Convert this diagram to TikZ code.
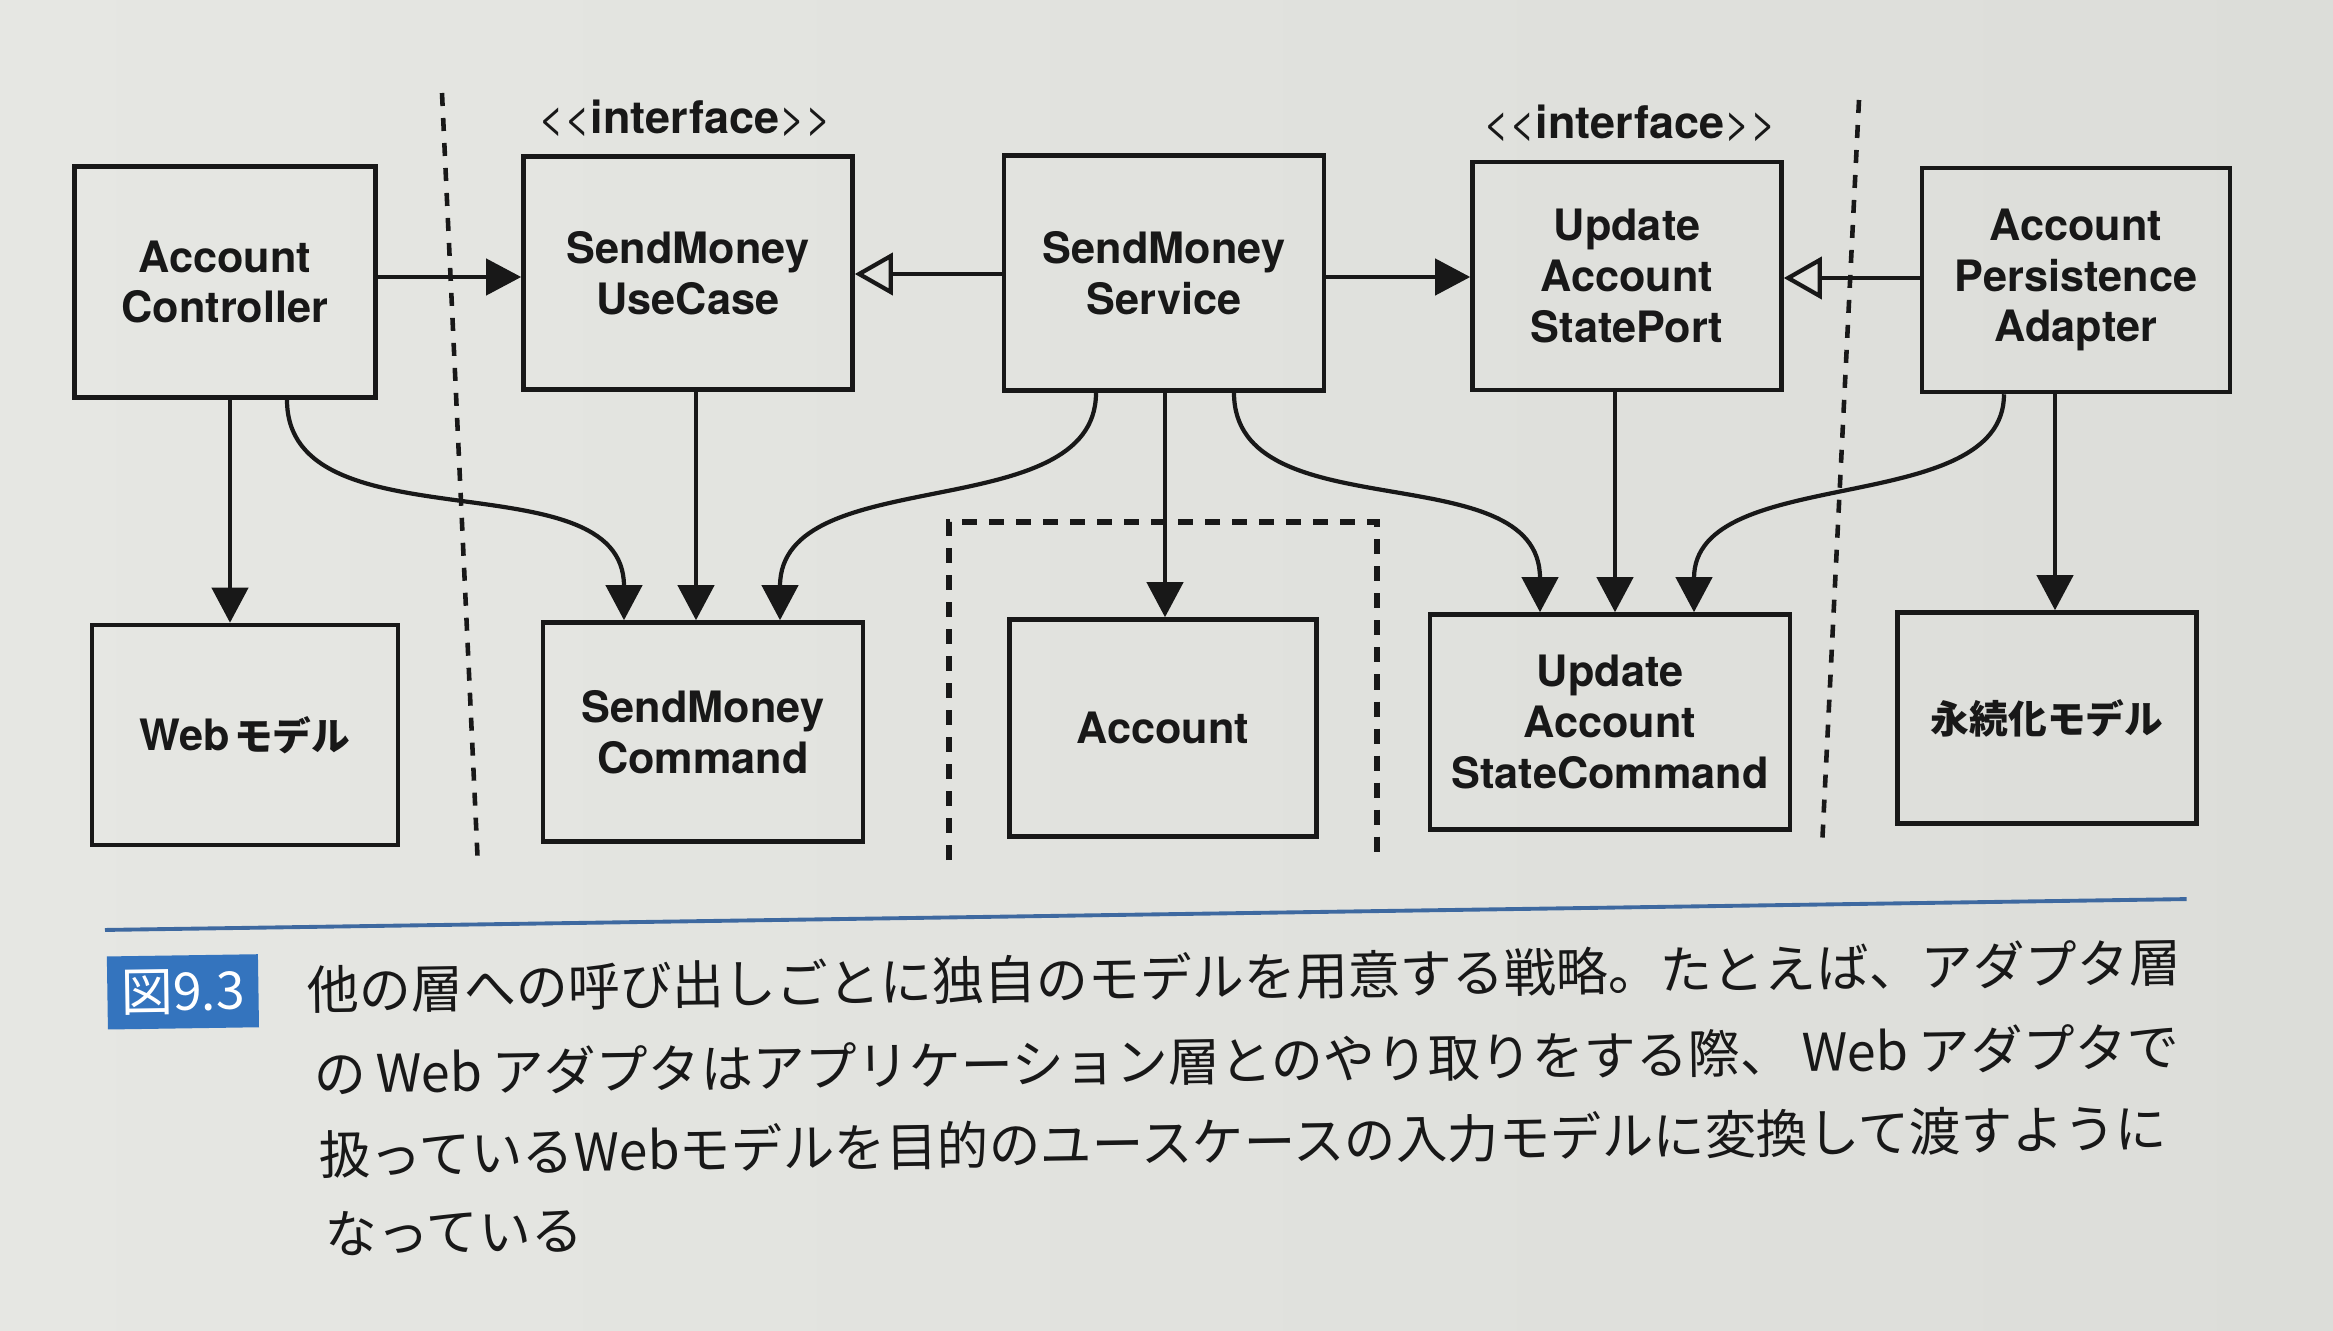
\documentclass[tikz,border=0pt]{standalone}
\usepackage{fontspec}
\setmainfont{TeX Gyre Heros}
\newfontfamily\jpfont{Noto Sans CJK JP}
\usetikzlibrary{arrows.meta}
\definecolor{ink}{RGB}{24,24,24}
\definecolor{paperL}{RGB}{230,231,227}
\definecolor{paperR}{RGB}{220,221,217}
\definecolor{paper}{RGB}{226,227,223}
\definecolor{capblue}{RGB}{52,116,190}
\definecolor{rulecol}{RGB}{62,105,160}
\newcommand{\boxfont}{\fontsize{12.3pt}{14.4pt}\selectfont\bfseries}
\newcommand{\jpb}{\jpfont\bfseries\fontsize{11pt}{14.2pt}\selectfont}
\newcommand{\capfont}{\jpfont\fontsize{14.8pt}{18pt}\selectfont}
\begin{document}
\begin{tikzpicture}[x=0.01cm,y=-0.01cm,
  box/.style={draw=ink, line width=1.25pt, align=center, font=\boxfont, text=ink, inner sep=0pt},
  conn/.style={draw=ink, line width=1.2pt, -{Triangle[length=0.35cm,width=0.36cm]}},
  impl/.style={draw=ink, line width=1.2pt, -{Triangle[length=0.38cm,width=0.42cm,fill=paper]}},
  divider/.style={draw=ink, line width=1.3pt, dash pattern=on 0.13cm off 0.12cm},
  dashbox/.style={draw=ink, line width=1.5pt, dash pattern=on 0.15cm off 0.12cm},
  stereo/.style={text=ink, font=\fontsize{12.8pt}{14pt}\selectfont, inner sep=0pt},
  capline/.style={anchor=west, inner sep=0pt, text=ink, font=\capfont}
]
\fill[left color=paperL, right color=paperR] (0,0) rectangle (2333,1330);
\useasboundingbox (0,0) rectangle (2333,1330);

% dividers
\coordinate (d1a) at (442,93);
\coordinate (d1b) at (478,867);
\coordinate (d2a) at (1859,100);
\coordinate (d2b) at (1822,847);
\draw[divider] (d1a) -- (d1b);
\draw[divider] (d2a) -- (d2b);

% dashed group around Account
\coordinate (g1) at (949,860);
\coordinate (g2) at (949,522);
\coordinate (g3) at (1377,522);
\coordinate (g4) at (1377,855);
\draw[dashbox] (g1) -- (g2) -- (g3) -- (g4);

% stereotypes
\node[stereo] (if1) at (685,118) {{<}{<}\textbf{interface}{>}{>}};
\node[stereo] (if2) at (1630,123) {{<}{<}\textbf{interface}{>}{>}};

% top row
\node[box, minimum width=3.01cm, minimum height=2.31cm] (ac) at (225,282) {Account\\Controller};
\node[box, minimum width=3.29cm, minimum height=2.33cm] (smuc) at (688,273) {SendMoney\\UseCase};
\node[box, minimum width=3.20cm, minimum height=2.35cm] (sms) at (1164,273) {SendMoney\\Service};
\node[box, minimum width=3.09cm, minimum height=2.28cm] (uasp) at (1627,276) {Update\\Account\\StatePort};
\node[box, minimum width=3.08cm, minimum height=2.24cm] (apa) at (2076,280) {Account\\Persistence\\Adapter};

% bottom row
\node[box, minimum width=3.06cm, minimum height=2.20cm] (wm) at (245,735) {Web\hspace{0.04cm}{\jpb モデル}};
\node[box, minimum width=3.20cm, minimum height=2.19cm] (smc) at (703,732) {SendMoney\\Command};
\node[box, minimum width=3.07cm, minimum height=2.17cm] (acc) at (1163,728) {Account};
\node[box, minimum width=3.60cm, minimum height=2.15cm] (uasc) at (1610,722) {Update\\Account\\StateCommand};
\node[box, minimum width=2.99cm, minimum height=2.11cm] (pm) at (2047,718) {{\jpb 永続化モデル}};

% horizontal connectors
\coordinate (h1) at (0,277);
\coordinate (h2) at (0,274);
\coordinate (h3) at (0,277);
\coordinate (h4) at (0,278);
\draw[conn] (ac.east |- h1) -- (smuc.west |- h1);
\draw[impl] (sms.west |- h2) -- (smuc.east |- h2);
\draw[conn] (sms.east |- h3) -- (uasp.west |- h3);
\draw[impl] (apa.west |- h4) -- (uasp.east |- h4);

% vertical connectors
\coordinate (v1) at (230,0);
\coordinate (v2) at (696,0);
\coordinate (v3) at (1165,0);
\coordinate (v4) at (1615,0);
\coordinate (v5) at (2055,0);
\draw[conn] (ac.south -| v1) -- (wm.north -| v1);
\draw[conn] (smuc.south -| v2) -- (smc.north -| v2);
\draw[conn] (sms.south -| v3) -- (acc.north -| v3);
\draw[conn] (uasp.south -| v4) -- (uasc.north -| v4);
\draw[conn] (apa.south -| v5) -- (pm.north -| v5);

% curved connectors
\coordinate (c1s) at (287,0);
\coordinate (c1e) at (624,0);
\coordinate (c2s) at (1096,0);
\coordinate (c2e) at (780,0);
\coordinate (c3s) at (1234,0);
\coordinate (c3e) at (1540,0);
\coordinate (c4s) at (2004,0);
\coordinate (c4e) at (1694,0);
\draw[conn] (ac.south -| c1s) .. controls +(0,150) and +(0,-165) .. (smc.north -| c1e);
\draw[conn] (sms.south -| c2s) .. controls +(0,135) and +(0,-160) .. (smc.north -| c2e);
\draw[conn] (sms.south -| c3s) .. controls +(0,140) and +(0,-160) .. (uasc.north -| c3e);
\draw[conn] (apa.south -| c4s) .. controls +(0,125) and +(0,-150) .. (uasc.north -| c4e);

% caption
\begin{scope}[rotate around={0.85:(105,930)}, transform shape]
\coordinate (r1) at (105,930);
\coordinate (r2) at (2187,930);
\draw[rulecol, line width=1.1pt] (r1) -- (r2);
\node[fill=capblue, minimum width=1.51cm, minimum height=0.73cm, inner sep=0pt, text=white, font=\capfont] (fig) at (182,993) {図9.3};
\node[capline] (l1) at (306,993) {他の層への呼び出しごとに独自のモデルを用意する戦略。たとえば、アダプタ層};
\node[capline] (l2) at (311,1077) {の\hspace{0.1cm}Web\hspace{0.1cm}アダプタはアプリケーション層とのやり取りをする際、\hspace{0.1cm}Web\hspace{0.1cm}アダプタで};
\node[capline] (l3) at (315,1158) {\scalebox{0.99}[1]{扱っているWebモデルを目的のユースケースの入力モデルに変換して渡すように}};
\node[capline] (l4) at (320,1237) {なっている};
\end{scope}
\end{tikzpicture}
\end{document}
